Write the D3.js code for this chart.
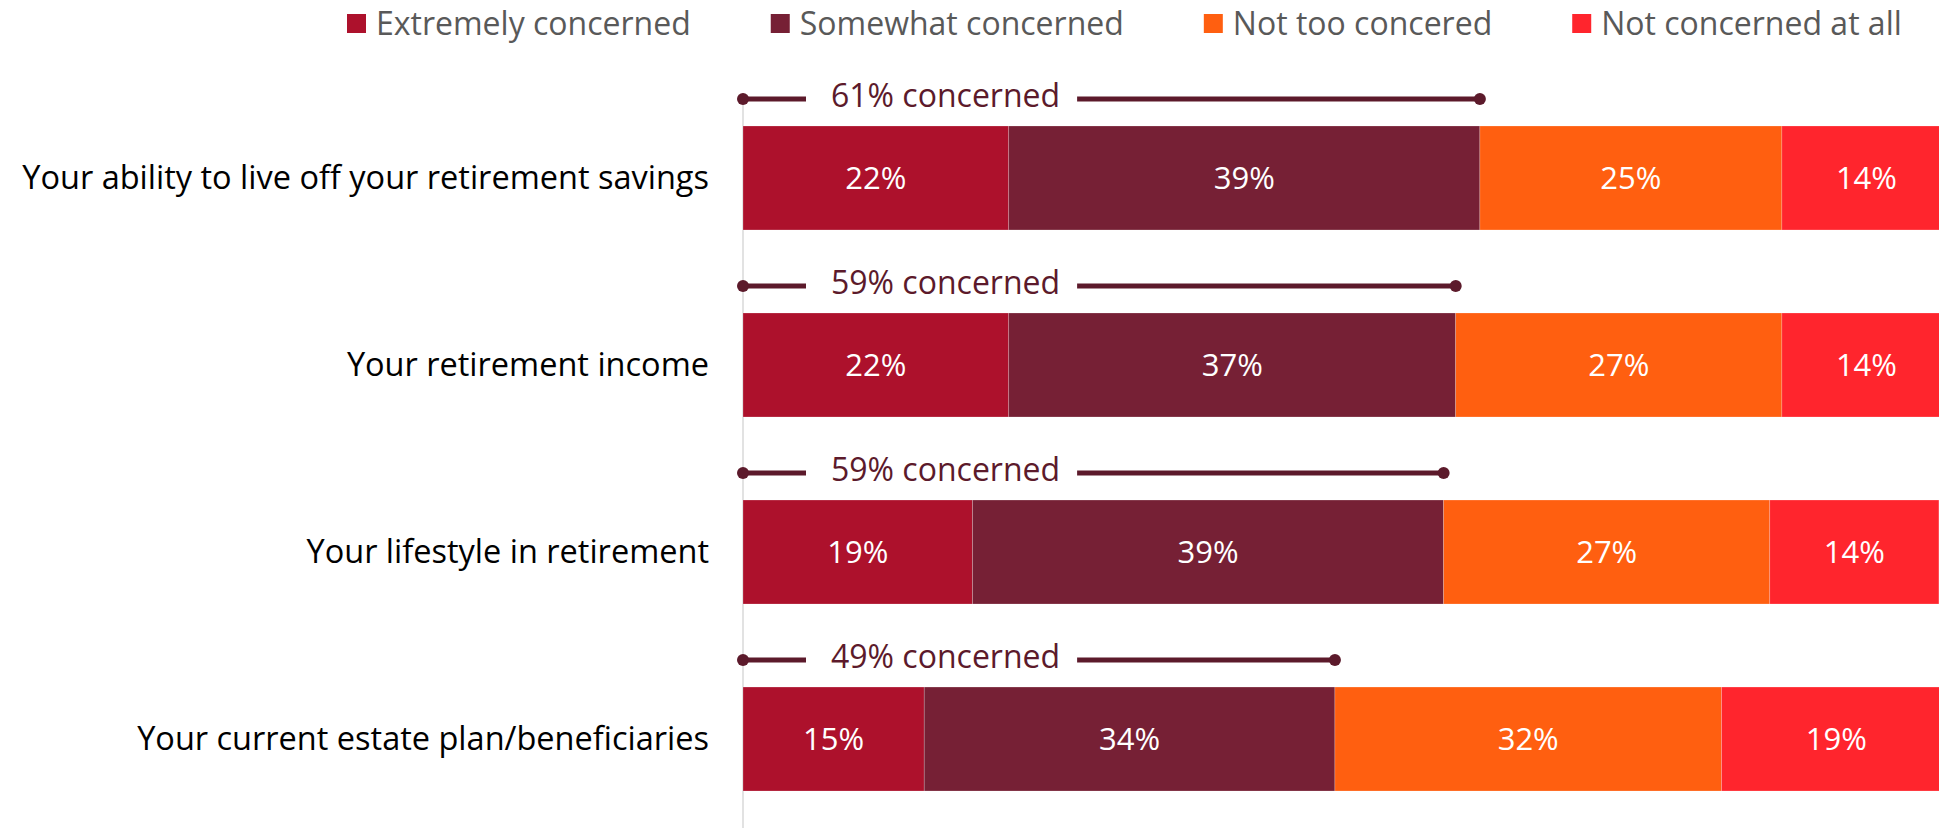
<!DOCTYPE html>
<html>
<head>
<meta charset="utf-8">
<script src="https://cdn.jsdelivr.net/npm/d3@7"></script>
<style>
  html, body { margin: 0; padding: 0; background: #fff; overflow: hidden; }
  svg { display: block; font-family: "Open Sans", Lato, sans-serif; }
</style>
</head>
<body>
<svg id="chart" width="1939" height="828"></svg>
<script>
// Survey items, top to bottom
const categories = [
  "Your ability to live off your retirement savings",
  "Your retirement income",
  "Your lifestyle in retirement",
  "Your current estate plan/beneficiaries"
];
const seriesNames = ["Extremely concerned", "Somewhat concerned", "Not too concered", "Not concerned at all"];
const extremely  = [22, 22, 19, 15];
const somewhat   = [39, 37, 39, 34];
const notToo     = [25, 27, 27, 32];
const notAtAll   = [14, 14, 14, 19];
const concernedTotals = [61, 59, 59, 49];

const colors = ["#AD112C", "#762035", "#FF5F10", "#FF252D"];
const bracketColor = "#5C1A2B";

const svg = d3.select("#chart");
const W = 1939, H = 828;

const rows = categories.map((c, i) => ({
  category: c,
  values: [extremely[i], somewhat[i], notToo[i], notAtAll[i]],
  concerned: concernedTotals[i],
  concernedEnd: extremely[i] + somewhat[i]
}));

const x = d3.scaleLinear().domain([0, 100]).range([743, 1951]);
const y = d3.scaleBand().domain(categories).range([126, 791]).paddingInner(0.444).paddingOuter(0);

// vertical baseline
svg.append("line")
  .attr("x1", x(0)).attr("x2", x(0))
  .attr("y1", 93).attr("y2", H)
  .attr("stroke", "#d9d9d9").attr("stroke-width", 1.5);

// stacked segments
const rowG = svg.selectAll("g.row").data(rows).join("g").attr("class", "row")
  .attr("transform", d => `translate(0,${y(d.category)})`);

rowG.each(function(d) {
  const g = d3.select(this);
  let acc = 0;
  const segs = d.values.map((v, k) => { const s = { x0: acc, x1: acc + v, v, k }; acc += v; return s; });
  g.selectAll("rect.seg").data(segs).join("rect").attr("class", "seg")
    .attr("x", s => x(s.x0))
    .attr("width", s => x(s.x1) - x(s.x0))
    .attr("y", 0).attr("height", y.bandwidth())
    .attr("fill", s => colors[s.k])
    .attr("stroke", "rgba(255,255,255,0.35)").attr("stroke-width", 0.6);
  g.selectAll("text.val").data(segs).join("text").attr("class", "val")
    .attr("x", s => (x(s.x0) + x(s.x1)) / 2)
    .attr("y", y.bandwidth() / 2)
    .attr("dy", "0.35em")
    .attr("text-anchor", "middle")
    .attr("fill", "#fff")
    .attr("font-size", 31)
    .text(s => s.v + "%");
});

// category labels
svg.selectAll("text.cat").data(rows).join("text").attr("class", "cat")
  .attr("x", 709)
  .attr("y", d => y(d.category) + y.bandwidth() / 2)
  .attr("dy", "0.35em")
  .attr("text-anchor", "end")
  .attr("fill", "#000")
  .attr("font-size", 32.5)
  .text(d => d.category);

// "concerned" brackets above each bar
const br = svg.selectAll("g.bracket").data(rows).join("g").attr("class", "bracket")
  .attr("transform", d => `translate(0,${y(d.category) - 27})`);

br.append("line")
  .attr("x1", x(0)).attr("x2", d => x(d.concernedEnd))
  .attr("y1", 0).attr("y2", 0)
  .attr("stroke", bracketColor).attr("stroke-width", 5);

br.each(function(d) {
  const g = d3.select(this);
  const t = g.append("text")
    .attr("x", x(0) + 88)
    .attr("y", -3)
    .attr("dy", "0.35em")
    .attr("fill", bracketColor)
    .attr("font-size", 32)
    .text(d.concerned + "% concerned");
  const w = t.node().getComputedTextLength();
  g.insert("rect", "text")
    .attr("x", x(0) + 63)
    .attr("width", w + 25 + 17)
    .attr("y", -8).attr("height", 16)
    .attr("fill", "#fff");
});

br.append("circle").attr("cx", x(0)).attr("cy", 0).attr("r", 6).attr("fill", bracketColor);
br.append("circle").attr("cx", d => x(d.concernedEnd)).attr("cy", 0).attr("r", 6).attr("fill", bracketColor);

// legend
const legend = svg.append("g").attr("class", "legend");
let lx = 347;
seriesNames.forEach((name, k) => {
  legend.append("rect")
    .attr("x", lx).attr("y", 14).attr("width", 19).attr("height", 19)
    .attr("fill", colors[k]);
  const t = legend.append("text")
    .attr("x", lx + 29).attr("y", 24)
    .attr("dy", "0.35em")
    .attr("fill", "#595959")
    .attr("font-size", 32)
    .text(name);
  lx += 29 + t.node().getComputedTextLength() + 80;
});
</script>
</body>
</html>
